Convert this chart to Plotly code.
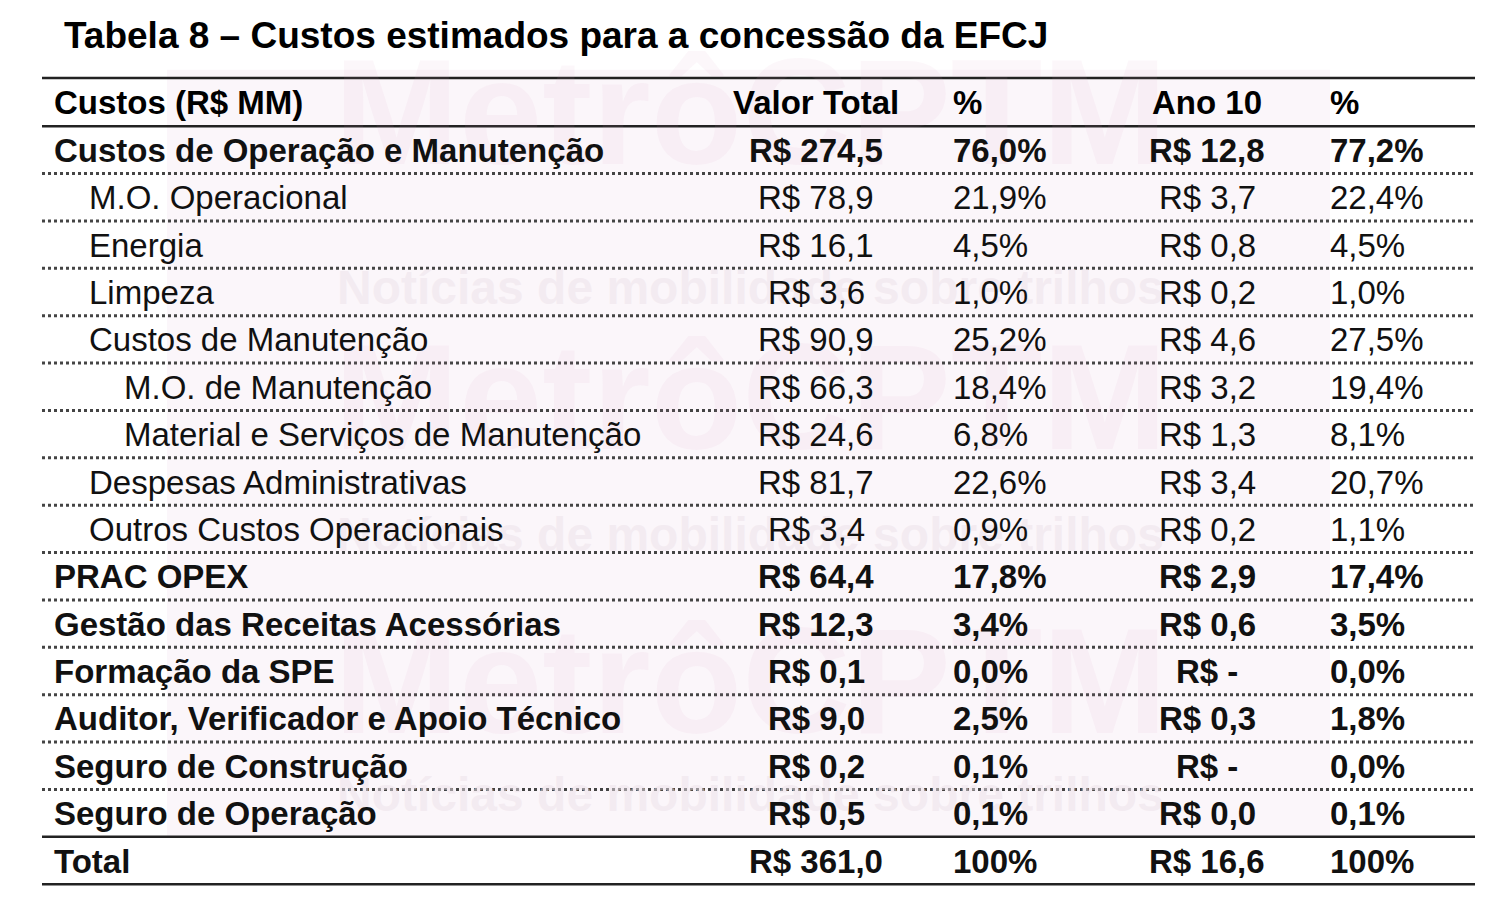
import plotly.graph_objects as go

title = "Tabela 8 – Custos estimados para a concessão da EFCJ"
headers = ["Custos (R$ MM)", "Valor Total", "%", "Ano 10", "%"]
labels = ["Custos de Operação e Manutenção", "M.O. Operacional", "Energia", "Limpeza",
          "Custos de Manutenção", "M.O. de Manutenção", "Material e Serviços de Manutenção",
          "Despesas Administrativas", "Outros Custos Operacionais", "PRAC OPEX",
          "Gestão das Receitas Acessórias", "Formação da SPE",
          "Auditor, Verificador e Apoio Técnico", "Seguro de Construção",
          "Seguro de Operação", "Total"]
indent = [0, 1, 1, 1, 1, 2, 2, 1, 1, 0, 0, 0, 0, 0, 0, 0]
bold = [1, 0, 0, 0, 0, 0, 0, 0, 0, 1, 1, 1, 1, 1, 1, 1]
valor_total = ["R$ 274,5", "R$ 78,9", "R$ 16,1", "R$ 3,6", "R$ 90,9", "R$ 66,3", "R$ 24,6",
               "R$ 81,7", "R$ 3,4", "R$ 64,4", "R$ 12,3", "R$ 0,1", "R$ 9,0", "R$ 0,2",
               "R$ 0,5", "R$ 361,0"]
pct_total = ["76,0%", "21,9%", "4,5%", "1,0%", "25,2%", "18,4%", "6,8%", "22,6%", "0,9%",
             "17,8%", "3,4%", "0,0%", "2,5%", "0,1%", "0,1%", "100%"]
ano10 = ["R$ 12,8", "R$ 3,7", "R$ 0,8", "R$ 0,2", "R$ 4,6", "R$ 3,2", "R$ 1,3", "R$ 3,4",
         "R$ 0,2", "R$ 2,9", "R$ 0,6", "R$ -", "R$ 0,3", "R$ -", "R$ 0,0", "R$ 16,6"]
pct_ano10 = ["77,2%", "22,4%", "4,5%", "1,0%", "27,5%", "19,4%", "8,1%", "20,7%", "1,1%",
             "17,4%", "3,5%", "0,0%", "1,8%", "0,0%", "0,1%", "100%"]

FONT = "Liberation Sans, Arial, sans-serif"
FS = 33
fig = go.Figure()
ann = []
shapes = []

# watermark
shapes.append(dict(type="rect", x0=167, x1=1330, y0=-0.7, y1=15.5, fillcolor="rgba(225,180,210,0.12)",
                   line_width=0, layer="below"))
for yy in [0.2, 6.2, 12.2]:
    ann.append(dict(x=750, y=yy, text="<b>MetrôCPTM</b>", showarrow=False, font=dict(size=150, color="rgba(215,150,190,0.08)", family=FONT)))
for yy in [3.9, 9.1, 14.6]:
    ann.append(dict(x=750, y=yy, text="<b>Notícias de mobilidade sobre trilhos</b>", showarrow=False, font=dict(size=48, color="rgba(235,225,232,0.5)", family=FONT)))

ann.append(dict(x=62, y=-1.435, text="<b>" + title + "</b>", xanchor="left", showarrow=False,
                font=dict(size=37, color="black", family=FONT)))
hx = [(52, "left"), (816, "center"), (951, "left"), (1207, "center"), (1328, "left")]
for (x, a), h in zip(hx, headers):
    ann.append(dict(x=x, y=0, text="<b>" + h + "</b>", xanchor=a, showarrow=False, font=dict(size=FS, color="black", family=FONT)))
for i, lab in enumerate(labels):
    y = i + 1
    cells = [(52 + 35 * indent[i], "left", lab), (816, "center", valor_total[i]), (951, "left", pct_total[i]),
             (1207, "center", ano10[i]), (1328, "left", pct_ano10[i])]
    for x, a, t in cells:
        tt = "<b>" + t + "</b>" if bold[i] else t
        ann.append(dict(x=x, y=y, text=tt, xanchor=a, showarrow=False, font=dict(size=FS, color="#111", family=FONT)))

def line(y, dotted):
    shapes.append(dict(type="line", x0=42, x1=1475, y0=y, y1=y,
                       line=dict(color="#222" if not dotted else "#444", width=2.5 if not dotted else 3, dash="dot" if dotted else "solid")))
line(-0.527, False)
line(0.49, False)
for k in range(1, 15):
    line(k + 0.49, True)
line(15.49, False)
line(16.49, False)

fig.update_layout(width=1500, height=911, margin=dict(l=0, r=0, t=0, b=0), plot_bgcolor="white", paper_bgcolor="white",
                  xaxis=dict(range=[8, 1508], visible=False), yaxis=dict(range=[17.224, -2.005], visible=False),
                  annotations=ann, shapes=shapes, showlegend=False)
fig.write_html("out.html")
